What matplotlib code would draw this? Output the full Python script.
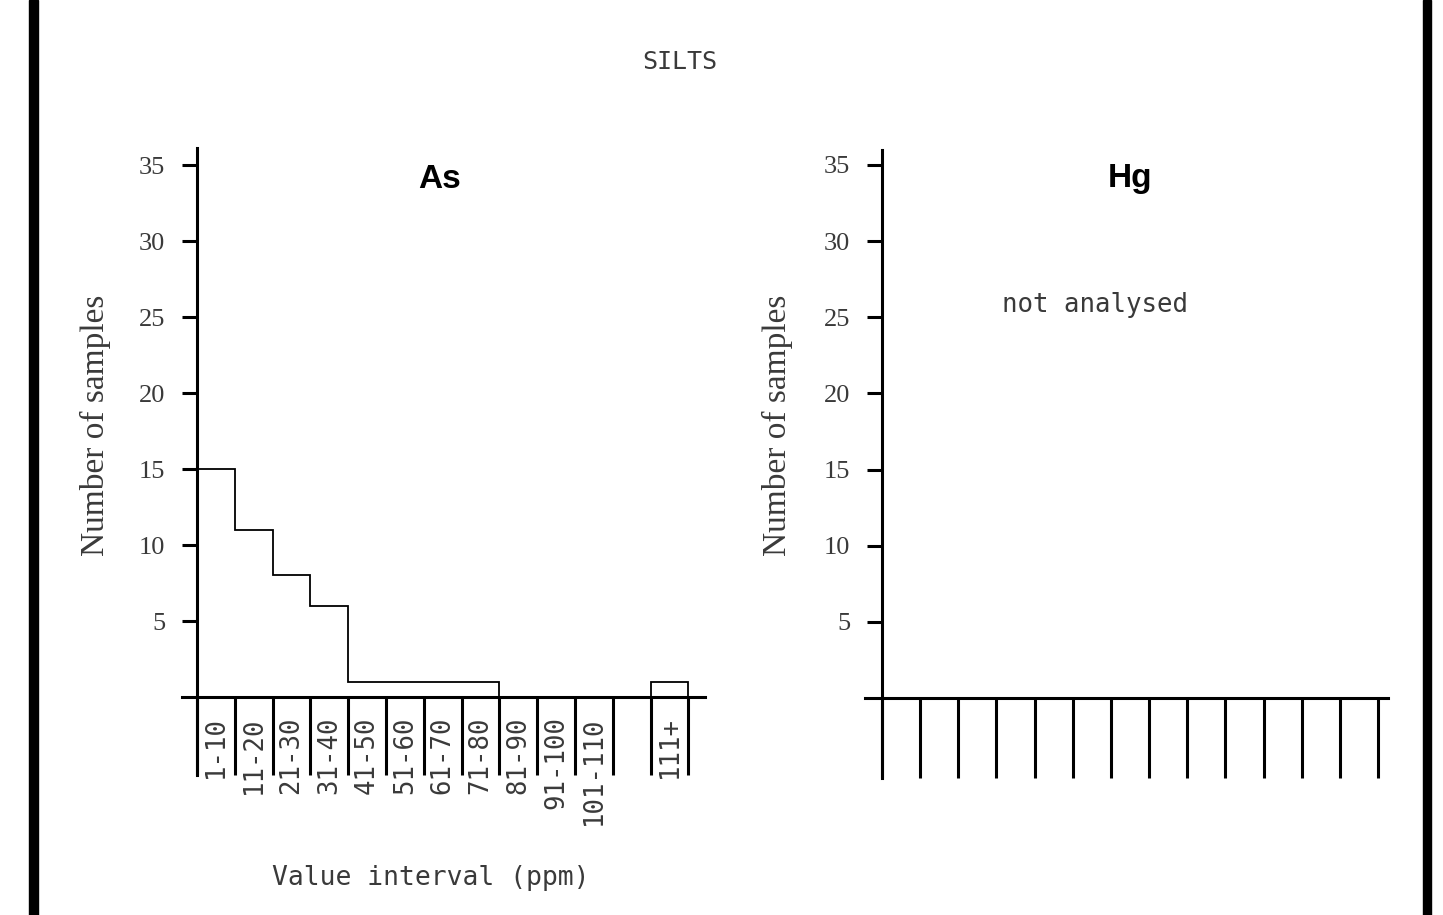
import matplotlib.pyplot as plt
import numpy as np
from matplotlib.patches import Rectangle

# value intervals (ppm) and counts
intervals = ["1-10", "11-20", "21-30", "31-40", "41-50", "51-60", "61-70",
             "71-80", "81-90", "91-100", "101-110", "", "111+"]
as_counts = [15, 11, 8, 6, 1, 1, 1, 1, 0, 0, 0, 0, 1]
y_ticks = [5, 10, 15, 20, 25, 30, 35]

W, H = 1443, 915
fig = plt.figure(figsize=(W / 100, H / 100), dpi=100)
fig.patch.set_facecolor("white")

txt = "#3a3a3a"
serif = "Liberation Serif"
mono = "DejaVu Sans Mono"


def panel(left, right, spine_x, bin_w, top, bottom, base, unit, tick_len):
    # place the axes from pixel coordinates of the scan
    ax = fig.add_axes([left / W, 1 - bottom / H, (right - left) / W, (bottom - top) / H])
    ax.set_xlim((left - spine_x) / bin_w, (right - spine_x) / bin_w)
    ax.set_ylim(-(bottom - base) / unit, (base - top) / unit)
    ax.set_facecolor("none")
    for s in ["top", "right"]:
        ax.spines[s].set_visible(False)
    ax.spines["left"].set_position(("data", 0))
    ax.spines["bottom"].set_position(("data", 0))
    ax.spines["left"].set_linewidth(2.2)
    ax.spines["bottom"].set_linewidth(2.2)

    edges = np.arange(len(intervals) + 1)
    ax.set_xticks(edges)
    ax.set_xticklabels([])
    ax.tick_params(axis="x", which="major", direction="out", length=tick_len, width=2.2)
    ax.set_xticks(edges[:-1] + 0.5, minor=True)
    ax.tick_params(axis="x", which="minor", length=0, pad=14)

    ax.set_yticks(y_ticks)
    ax.set_yticklabels([str(v) for v in y_ticks])
    ax.tick_params(axis="y", direction="out", length=11, width=2.2, pad=12,
                   labelsize=19, labelcolor=txt)
    for t in ax.get_yticklabels():
        t.set_fontfamily(serif)
    return ax, edges


# As panel
ax1, edges = panel(182, 705, 197, 37.8, 148, 775, 697, 15.2, 56)
ax1.stairs(as_counts, edges, baseline=0, color="black", lw=1.3)
ax1.set_xticklabels(intervals, minor=True, rotation=90, va="top", ha="center",
                    fontsize=18.5, fontfamily=mono, color=txt)
ax1.text(440 / W, 1 - 180 / H, "As", transform=fig.transFigure, ha="center", va="center",
         fontsize=24, fontweight="bold", fontfamily="Liberation Sans", color="black")

# Hg panel
ax2, _ = panel(865, 1388, 882, 38.15, 150, 778, 698, 15.23, 57.6)
fig.text(1130 / W, 1 - 178 / H, "Hg", ha="center", va="center",
         fontsize=24, fontweight="bold", fontfamily="Liberation Sans", color="black")
fig.text(1095 / W, 1 - 305 / H, "not analysed", ha="center", va="center",
         fontsize=18.5, fontfamily=mono, color=txt)

# titles and axis labels
fig.text(680 / W, 1 - 62 / H, "SILTS", ha="center", va="center",
         fontsize=18, fontfamily=mono, color=txt)
fig.text(431 / W, 1 - 878 / H, "Value interval (ppm)", ha="center", va="center",
         fontsize=19, fontfamily=mono, color=txt)
for x in (95, 777):
    fig.text(x / W, 1 - 425 / H, "Number of samples", rotation=90, ha="center", va="center",
             fontsize=24, fontfamily=serif, color=txt)

# black scan borders
fig.patches.append(Rectangle((29 / W, 0), 9 / W, 1, transform=fig.transFigure,
                             color="black", zorder=5))
fig.patches.append(Rectangle((1423 / W, 0), 8 / W, 1, transform=fig.transFigure,
                             color="black", zorder=5))

fig.savefig("out.png", dpi=100)
